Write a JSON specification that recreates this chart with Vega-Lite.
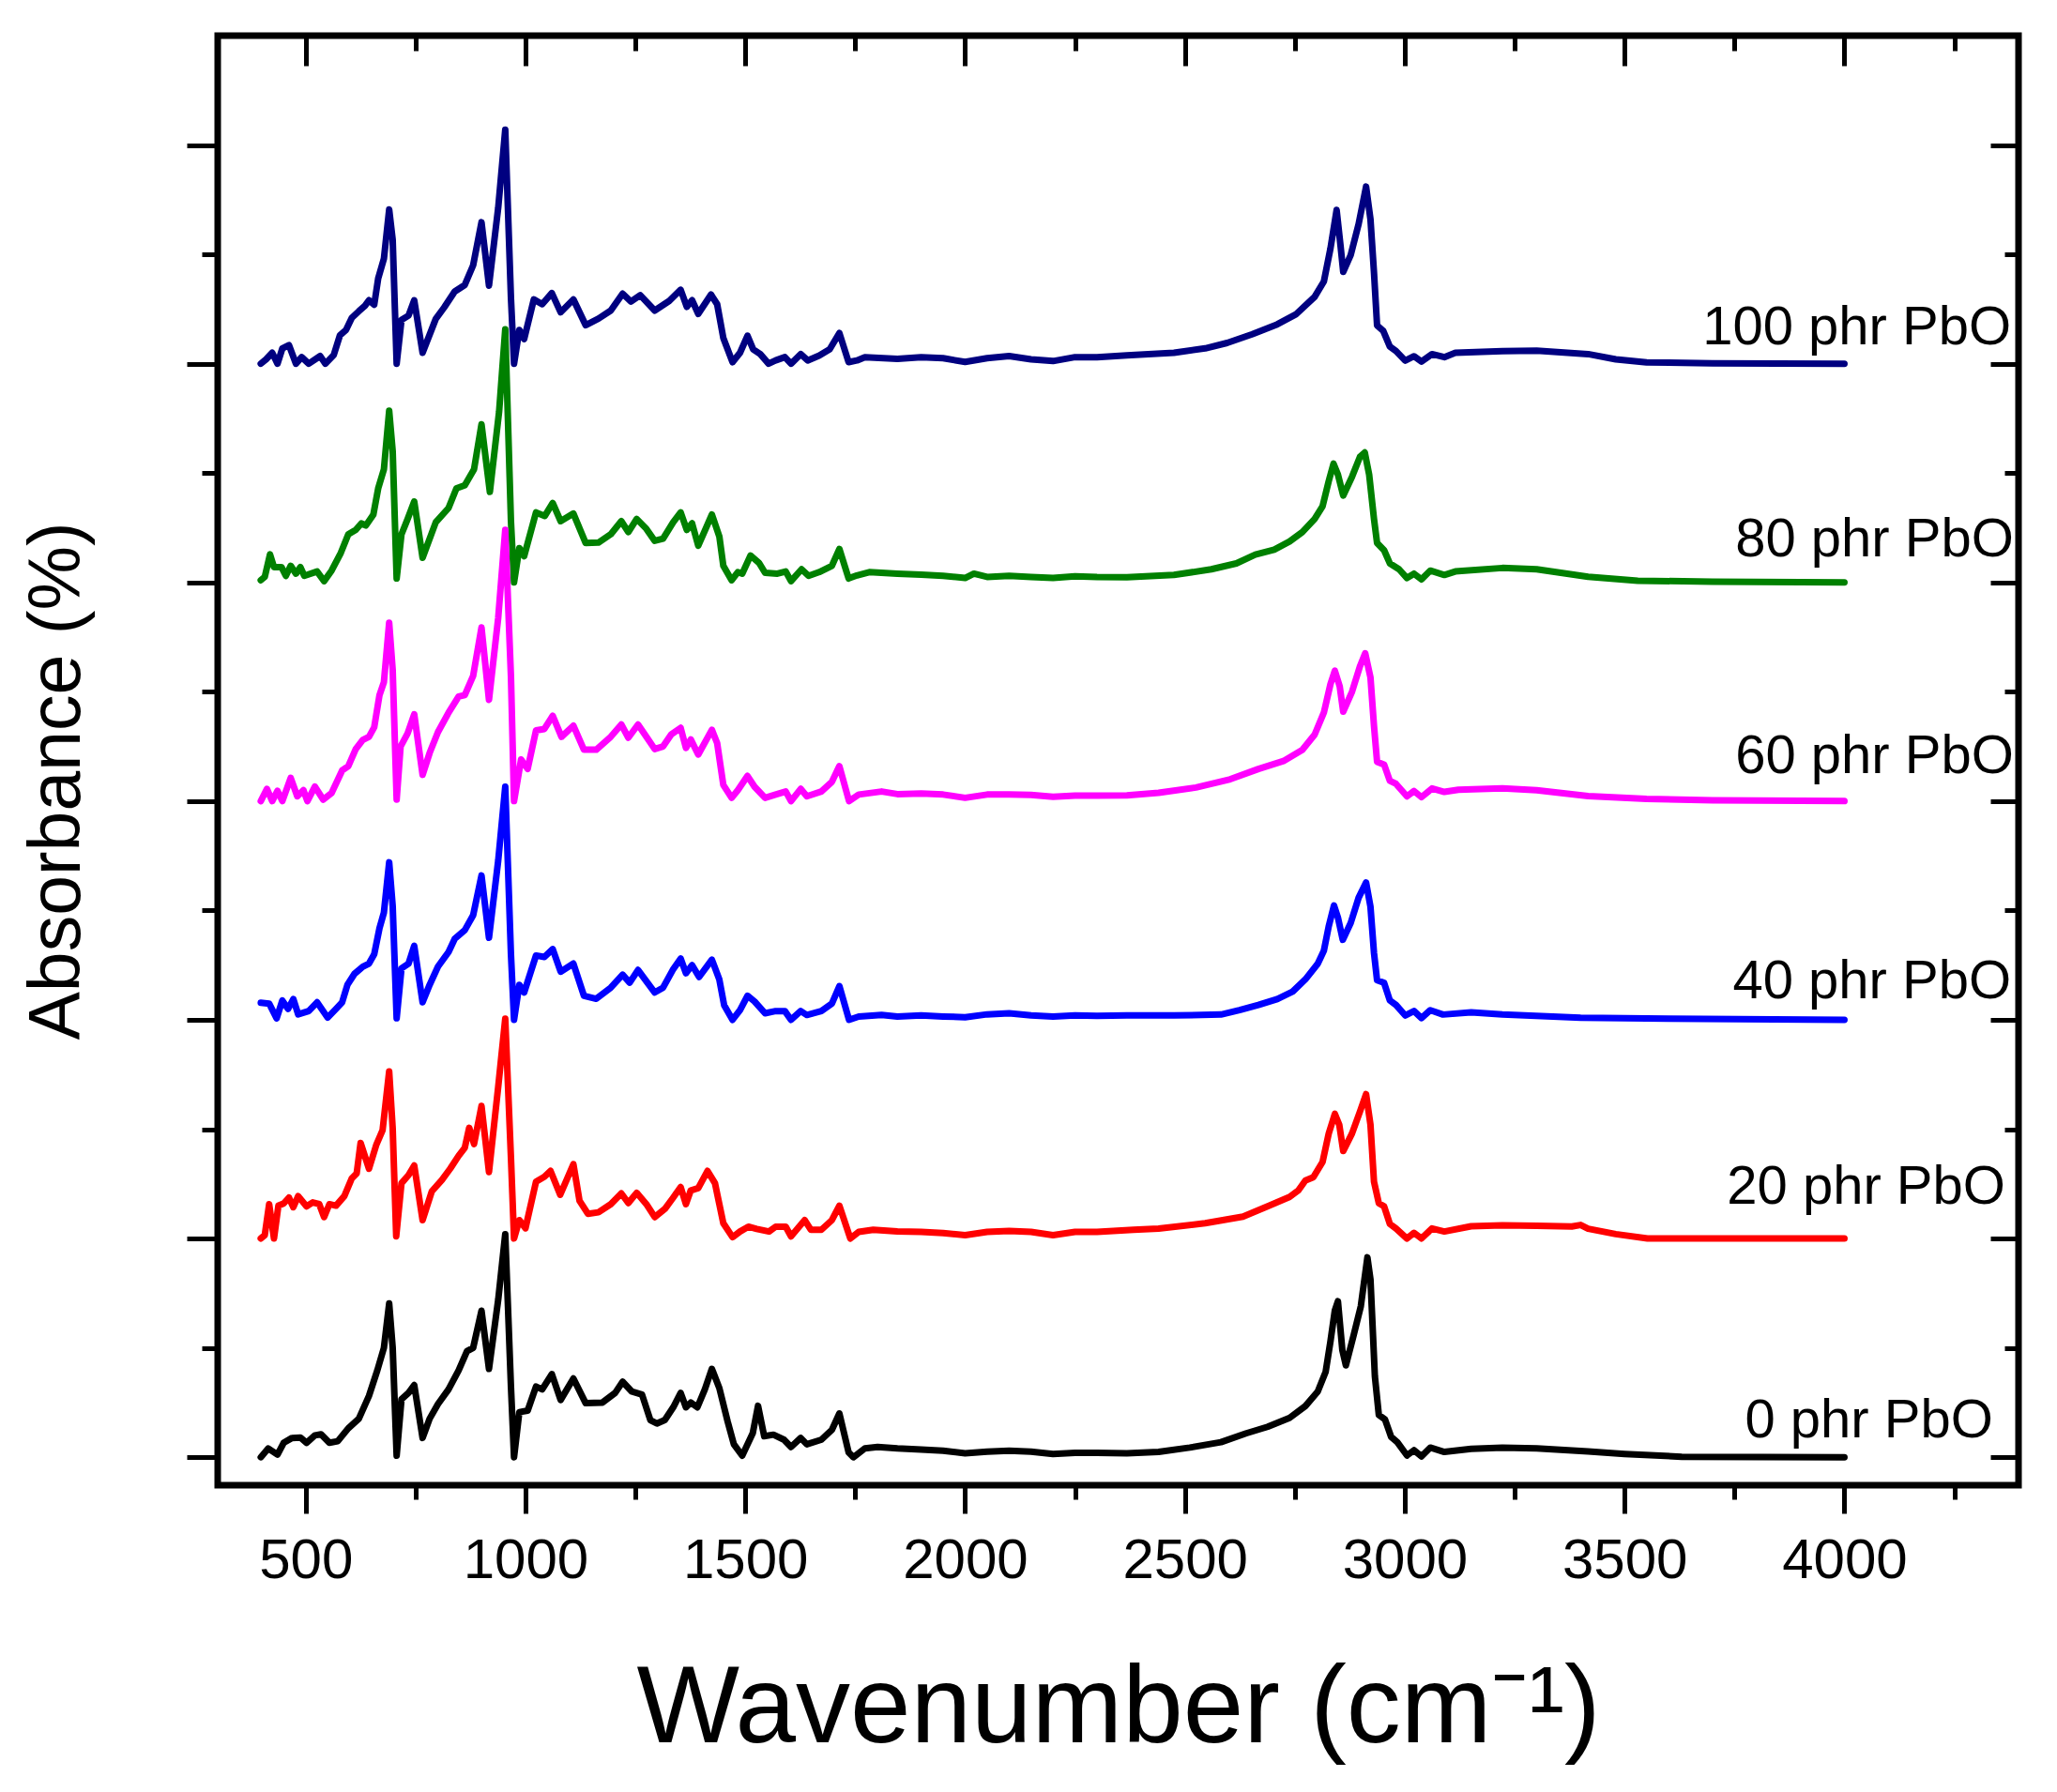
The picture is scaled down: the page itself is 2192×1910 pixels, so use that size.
{
  "$schema": "https://vega.github.io/schema/vega-lite/v6.json",
  "width": 1919,
  "height": 1545,
  "autosize": {"type": "none"},
  "padding": {"left": 232, "top": 38, "right": 41, "bottom": 327},
  "background": "white",
  "config": {
    "font": "Liberation Sans",
    "view": {"stroke": "black", "strokeWidth": 7},
    "axis": {"domain": false, "grid": false, "tickColor": "black", "tickWidth": 5, "labelColor": "black", "titleColor": "black", "titleFontWeight": "normal", "labelFont": "Liberation Sans", "titleFont": "Liberation Sans"}
  },
  "datasets": {
    "spectra": [
      {"s":"100","x":398,"y":5},{"s":"100","x":410,"y":5.02},{"s":"100","x":424,"y":5.05},{"s":"100","x":436,"y":5},{"s":"100","x":447,"y":5.07},{"s":"100","x":462,"y":5.085},{"s":"100","x":478,"y":5},{"s":"100","x":491,"y":5.03},{"s":"100","x":507,"y":5},{"s":"100","x":533,"y":5.035},{"s":"100","x":545,"y":5},{"s":"100","x":564,"y":5.04},{"s":"100","x":578,"y":5.13},{"s":"100","x":592,"y":5.155},{"s":"100","x":605,"y":5.21},{"s":"100","x":621,"y":5.24},{"s":"100","x":635,"y":5.265},{"s":"100","x":644,"y":5.29},{"s":"100","x":656,"y":5.27},{"s":"100","x":665,"y":5.39},{"s":"100","x":678,"y":5.48},{"s":"100","x":690,"y":5.705},{"s":"100","x":698,"y":5.566},{"s":"100","x":707,"y":5},{"s":"100","x":718,"y":5.2},{"s":"100","x":734,"y":5.22},{"s":"100","x":747,"y":5.29},{"s":"100","x":766,"y":5.05},{"s":"100","x":796,"y":5.205},{"s":"100","x":815,"y":5.257},{"s":"100","x":839,"y":5.33},{"s":"100","x":862,"y":5.36},{"s":"100","x":881,"y":5.45},{"s":"100","x":900,"y":5.647},{"s":"100","x":917,"y":5.357},{"s":"100","x":938,"y":5.713},{"s":"100","x":954,"y":6.07},{"s":"100","x":967,"y":5.3},{"s":"100","x":974,"y":5},{"s":"100","x":986,"y":5.154},{"s":"100","x":997,"y":5.113},{"s":"100","x":1019,"y":5.294},{"s":"100","x":1038,"y":5.272},{"s":"100","x":1060,"y":5.323},{"s":"100","x":1080,"y":5.235},{"s":"100","x":1109,"y":5.294},{"s":"100","x":1137,"y":5.176},{"s":"100","x":1166,"y":5.206},{"s":"100","x":1194,"y":5.243},{"s":"100","x":1221,"y":5.32},{"s":"100","x":1240,"y":5.284},{"s":"100","x":1261,"y":5.313},{"s":"100","x":1294,"y":5.243},{"s":"100","x":1327,"y":5.287},{"s":"100","x":1353,"y":5.338},{"s":"100","x":1367,"y":5.26},{"s":"100","x":1379,"y":5.29},{"s":"100","x":1393,"y":5.228},{"s":"100","x":1422,"y":5.316},{"s":"100","x":1436,"y":5.272},{"s":"100","x":1450,"y":5.118},{"s":"100","x":1471,"y":5.007},{"s":"100","x":1488,"y":5.05},{"s":"100","x":1505,"y":5.128},{"s":"100","x":1518,"y":5.066},{"s":"100","x":1534,"y":5.044},{"s":"100","x":1553,"y":5},{"s":"100","x":1569,"y":5.015},{"s":"100","x":1590,"y":5.03},{"s":"100","x":1604,"y":5},{"s":"100","x":1626,"y":5.044},{"s":"100","x":1642,"y":5.015},{"s":"100","x":1668,"y":5.037},{"s":"100","x":1692,"y":5.066},{"s":"100","x":1714,"y":5.14},{"s":"100","x":1735,"y":5.007},{"s":"100","x":1754,"y":5.015},{"s":"100","x":1772,"y":5.03},{"s":"100","x":1846,"y":5.022},{"s":"100","x":1900,"y":5.03},{"s":"100","x":1950,"y":5.025},{"s":"100","x":2000,"y":5.008},{"s":"100","x":2050,"y":5.025},{"s":"100","x":2100,"y":5.035},{"s":"100","x":2150,"y":5.02},{"s":"100","x":2200,"y":5.012},{"s":"100","x":2250,"y":5.03},{"s":"100","x":2300,"y":5.03},{"s":"100","x":2368,"y":5.038},{"s":"100","x":2475,"y":5.05},{"s":"100","x":2546,"y":5.07},{"s":"100","x":2596,"y":5.095},{"s":"100","x":2653,"y":5.135},{"s":"100","x":2710,"y":5.18},{"s":"100","x":2752,"y":5.225},{"s":"100","x":2795,"y":5.306},{"s":"100","x":2816,"y":5.376},{"s":"100","x":2831,"y":5.527},{"s":"100","x":2845,"y":5.703},{"s":"100","x":2854,"y":5.537},{"s":"100","x":2860,"y":5.42},{"s":"100","x":2877,"y":5.497},{"s":"100","x":2895,"y":5.638},{"s":"100","x":2912,"y":5.81},{"s":"100","x":2922,"y":5.66},{"s":"100","x":2930,"y":5.417},{"s":"100","x":2937,"y":5.175},{"s":"100","x":2951,"y":5.15},{"s":"100","x":2966,"y":5.078},{"s":"100","x":2980,"y":5.058},{"s":"100","x":3001,"y":5.014},{"s":"100","x":3021,"y":5.034},{"s":"100","x":3038,"y":5.01},{"s":"100","x":3062,"y":5.044},{"s":"100","x":3090,"y":5.03},{"s":"100","x":3115,"y":5.05},{"s":"100","x":3222,"y":5.058},{"s":"100","x":3300,"y":5.06},{"s":"100","x":3417,"y":5.044},{"s":"100","x":3480,"y":5.02},{"s":"100","x":3550,"y":5.006},{"s":"100","x":3700,"y":5.002},{"s":"100","x":4000,"y":5},

      {"s":"80","x":398,"y":4.01},{"s":"80","x":407,"y":4.025},{"s":"80","x":419,"y":4.128},{"s":"80","x":428,"y":4.07},{"s":"80","x":445,"y":4.07},{"s":"80","x":455,"y":4.03},{"s":"80","x":466,"y":4.076},{"s":"80","x":478,"y":4.04},{"s":"80","x":488,"y":4.07},{"s":"80","x":497,"y":4.03},{"s":"80","x":526,"y":4.05},{"s":"80","x":542,"y":4.006},{"s":"80","x":559,"y":4.054},{"s":"80","x":580,"y":4.135},{"s":"80","x":597,"y":4.22},{"s":"80","x":614,"y":4.24},{"s":"80","x":627,"y":4.27},{"s":"80","x":637,"y":4.26},{"s":"80","x":654,"y":4.31},{"s":"80","x":665,"y":4.43},{"s":"80","x":678,"y":4.517},{"s":"80","x":690,"y":4.785},{"s":"80","x":698,"y":4.6},{"s":"80","x":707,"y":4.018},{"s":"80","x":718,"y":4.22},{"s":"80","x":732,"y":4.29},{"s":"80","x":747,"y":4.37},{"s":"80","x":766,"y":4.113},{"s":"80","x":796,"y":4.275},{"s":"80","x":825,"y":4.34},{"s":"80","x":843,"y":4.43},{"s":"80","x":862,"y":4.444},{"s":"80","x":883,"y":4.517},{"s":"80","x":900,"y":4.723},{"s":"80","x":919,"y":4.414},{"s":"80","x":940,"y":4.78},{"s":"80","x":954,"y":5.157},{"s":"80","x":967,"y":4.28},{"s":"80","x":974,"y":4},{"s":"80","x":986,"y":4.157},{"s":"80","x":997,"y":4.12},{"s":"80","x":1024,"y":4.32},{"s":"80","x":1044,"y":4.304},{"s":"80","x":1062,"y":4.363},{"s":"80","x":1080,"y":4.28},{"s":"80","x":1109,"y":4.315},{"s":"80","x":1137,"y":4.18},{"s":"80","x":1166,"y":4.182},{"s":"80","x":1194,"y":4.22},{"s":"80","x":1218,"y":4.28},{"s":"80","x":1234,"y":4.23},{"s":"80","x":1253,"y":4.29},{"s":"80","x":1275,"y":4.245},{"s":"80","x":1294,"y":4.19},{"s":"80","x":1313,"y":4.2},{"s":"80","x":1336,"y":4.275},{"s":"80","x":1353,"y":4.32},{"s":"80","x":1367,"y":4.24},{"s":"80","x":1379,"y":4.27},{"s":"80","x":1393,"y":4.168},{"s":"80","x":1424,"y":4.31},{"s":"80","x":1441,"y":4.21},{"s":"80","x":1450,"y":4.076},{"s":"80","x":1469,"y":4.01},{"s":"80","x":1483,"y":4.047},{"s":"80","x":1493,"y":4.04},{"s":"80","x":1512,"y":4.123},{"s":"80","x":1531,"y":4.09},{"s":"80","x":1545,"y":4.044},{"s":"80","x":1573,"y":4.04},{"s":"80","x":1592,"y":4.05},{"s":"80","x":1604,"y":4.006},{"s":"80","x":1628,"y":4.06},{"s":"80","x":1644,"y":4.03},{"s":"80","x":1668,"y":4.047},{"s":"80","x":1697,"y":4.076},{"s":"80","x":1714,"y":4.153},{"s":"80","x":1735,"y":4.018},{"s":"80","x":1754,"y":4.032},{"s":"80","x":1782,"y":4.047},{"s":"80","x":1846,"y":4.04},{"s":"80","x":1900,"y":4.035},{"s":"80","x":1950,"y":4.03},{"s":"80","x":2000,"y":4.02},{"s":"80","x":2020,"y":4.04},{"s":"80","x":2050,"y":4.025},{"s":"80","x":2100,"y":4.03},{"s":"80","x":2150,"y":4.025},{"s":"80","x":2200,"y":4.02},{"s":"80","x":2250,"y":4.028},{"s":"80","x":2300,"y":4.025},{"s":"80","x":2368,"y":4.024},{"s":"80","x":2475,"y":4.034},{"s":"80","x":2560,"y":4.06},{"s":"80","x":2617,"y":4.087},{"s":"80","x":2660,"y":4.127},{"s":"80","x":2703,"y":4.15},{"s":"80","x":2738,"y":4.187},{"s":"80","x":2767,"y":4.23},{"s":"80","x":2795,"y":4.29},{"s":"80","x":2813,"y":4.348},{"s":"80","x":2827,"y":4.463},{"s":"80","x":2838,"y":4.543},{"s":"80","x":2848,"y":4.493},{"s":"80","x":2860,"y":4.397},{"s":"80","x":2880,"y":4.483},{"s":"80","x":2898,"y":4.574},{"s":"80","x":2909,"y":4.594},{"s":"80","x":2919,"y":4.493},{"s":"80","x":2930,"y":4.29},{"s":"80","x":2937,"y":4.18},{"s":"80","x":2953,"y":4.147},{"s":"80","x":2966,"y":4.087},{"s":"80","x":2987,"y":4.06},{"s":"80","x":3005,"y":4.02},{"s":"80","x":3021,"y":4.04},{"s":"80","x":3038,"y":4.014},{"s":"80","x":3058,"y":4.054},{"s":"80","x":3090,"y":4.034},{"s":"80","x":3115,"y":4.05},{"s":"80","x":3222,"y":4.066},{"s":"80","x":3300,"y":4.06},{"s":"80","x":3417,"y":4.026},{"s":"80","x":3530,"y":4.008},{"s":"80","x":3700,"y":4.003},{"s":"80","x":4000,"y":4},

      {"s":"60","x":398,"y":3},{"s":"60","x":412,"y":3.056},{"s":"60","x":424,"y":3},{"s":"60","x":436,"y":3.047},{"s":"60","x":447,"y":3},{"s":"60","x":466,"y":3.106},{"s":"60","x":481,"y":3.022},{"s":"60","x":495,"y":3.05},{"s":"60","x":504,"y":3},{"s":"60","x":521,"y":3.066},{"s":"60","x":540,"y":3.007},{"s":"60","x":559,"y":3.037},{"s":"60","x":583,"y":3.14},{"s":"60","x":597,"y":3.16},{"s":"60","x":614,"y":3.238},{"s":"60","x":630,"y":3.28},{"s":"60","x":644,"y":3.294},{"s":"60","x":656,"y":3.338},{"s":"60","x":668,"y":3.485},{"s":"60","x":678,"y":3.544},{"s":"60","x":690,"y":3.816},{"s":"60","x":698,"y":3.6},{"s":"60","x":707,"y":3.007},{"s":"60","x":716,"y":3.25},{"s":"60","x":732,"y":3.31},{"s":"60","x":747,"y":3.397},{"s":"60","x":766,"y":3.12},{"s":"60","x":782,"y":3.22},{"s":"60","x":801,"y":3.316},{"s":"60","x":825,"y":3.404},{"s":"60","x":848,"y":3.478},{"s":"60","x":862,"y":3.485},{"s":"60","x":881,"y":3.573},{"s":"60","x":900,"y":3.794},{"s":"60","x":917,"y":3.463},{"s":"60","x":938,"y":3.838},{"s":"60","x":954,"y":4.24},{"s":"60","x":967,"y":3.57},{"s":"60","x":974,"y":3},{"s":"60","x":990,"y":3.19},{"s":"60","x":1005,"y":3.147},{"s":"60","x":1024,"y":3.323},{"s":"60","x":1043,"y":3.33},{"s":"60","x":1062,"y":3.39},{"s":"60","x":1082,"y":3.294},{"s":"60","x":1109,"y":3.345},{"s":"60","x":1133,"y":3.235},{"s":"60","x":1161,"y":3.235},{"s":"60","x":1194,"y":3.294},{"s":"60","x":1218,"y":3.35},{"s":"60","x":1234,"y":3.29},{"s":"60","x":1256,"y":3.35},{"s":"60","x":1275,"y":3.294},{"s":"60","x":1294,"y":3.238},{"s":"60","x":1313,"y":3.25},{"s":"60","x":1332,"y":3.306},{"s":"60","x":1353,"y":3.335},{"s":"60","x":1365,"y":3.243},{"s":"60","x":1376,"y":3.282},{"s":"60","x":1393,"y":3.213},{"s":"60","x":1424,"y":3.326},{"s":"60","x":1436,"y":3.265},{"s":"60","x":1450,"y":3.074},{"s":"60","x":1469,"y":3.015},{"s":"60","x":1483,"y":3.05},{"s":"60","x":1505,"y":3.115},{"s":"60","x":1521,"y":3.066},{"s":"60","x":1545,"y":3.015},{"s":"60","x":1569,"y":3.03},{"s":"60","x":1592,"y":3.044},{"s":"60","x":1604,"y":3},{"s":"60","x":1626,"y":3.056},{"s":"60","x":1640,"y":3.022},{"s":"60","x":1673,"y":3.044},{"s":"60","x":1697,"y":3.088},{"s":"60","x":1714,"y":3.16},{"s":"60","x":1736,"y":3},{"s":"60","x":1758,"y":3.03},{"s":"60","x":1810,"y":3.044},{"s":"60","x":1846,"y":3.032},{"s":"60","x":1900,"y":3.035},{"s":"60","x":1950,"y":3.03},{"s":"60","x":2000,"y":3.015},{"s":"60","x":2050,"y":3.03},{"s":"60","x":2100,"y":3.03},{"s":"60","x":2150,"y":3.028},{"s":"60","x":2200,"y":3.02},{"s":"60","x":2250,"y":3.025},{"s":"60","x":2300,"y":3.025},{"s":"60","x":2368,"y":3.026},{"s":"60","x":2440,"y":3.038},{"s":"60","x":2525,"y":3.062},{"s":"60","x":2603,"y":3.1},{"s":"60","x":2667,"y":3.147},{"s":"60","x":2724,"y":3.183},{"s":"60","x":2767,"y":3.234},{"s":"60","x":2795,"y":3.304},{"s":"60","x":2816,"y":3.405},{"s":"60","x":2831,"y":3.535},{"s":"60","x":2841,"y":3.596},{"s":"60","x":2852,"y":3.525},{"s":"60","x":2860,"y":3.409},{"s":"60","x":2880,"y":3.5},{"s":"60","x":2898,"y":3.616},{"s":"60","x":2910,"y":3.676},{"s":"60","x":2922,"y":3.566},{"s":"60","x":2930,"y":3.344},{"s":"60","x":2937,"y":3.18},{"s":"60","x":2953,"y":3.167},{"s":"60","x":2966,"y":3.093},{"s":"60","x":2980,"y":3.079},{"s":"60","x":3005,"y":3.022},{"s":"60","x":3021,"y":3.046},{"s":"60","x":3038,"y":3.018},{"s":"60","x":3062,"y":3.058},{"s":"60","x":3090,"y":3.042},{"s":"60","x":3122,"y":3.052},{"s":"60","x":3222,"y":3.058},{"s":"60","x":3300,"y":3.05},{"s":"60","x":3417,"y":3.023},{"s":"60","x":3550,"y":3.01},{"s":"60","x":3700,"y":3.004},{"s":"60","x":4000,"y":3},

      {"s":"40","x":398,"y":2.078},{"s":"40","x":417,"y":2.074},{"s":"40","x":434,"y":2.007},{"s":"40","x":447,"y":2.088},{"s":"40","x":460,"y":2.05},{"s":"40","x":472,"y":2.095},{"s":"40","x":483,"y":2.025},{"s":"40","x":507,"y":2.04},{"s":"40","x":526,"y":2.08},{"s":"40","x":550,"y":2.01},{"s":"40","x":569,"y":2.05},{"s":"40","x":583,"y":2.08},{"s":"40","x":595,"y":2.16},{"s":"40","x":611,"y":2.21},{"s":"40","x":630,"y":2.243},{"s":"40","x":644,"y":2.257},{"s":"40","x":656,"y":2.3},{"s":"40","x":668,"y":2.419},{"s":"40","x":678,"y":2.49},{"s":"40","x":690,"y":2.72},{"s":"40","x":698,"y":2.52},{"s":"40","x":707,"y":2.007},{"s":"40","x":718,"y":2.235},{"s":"40","x":734,"y":2.257},{"s":"40","x":747,"y":2.338},{"s":"40","x":766,"y":2.08},{"s":"40","x":782,"y":2.16},{"s":"40","x":801,"y":2.243},{"s":"40","x":825,"y":2.31},{"s":"40","x":839,"y":2.37},{"s":"40","x":862,"y":2.41},{"s":"40","x":881,"y":2.478},{"s":"40","x":900,"y":2.66},{"s":"40","x":917,"y":2.375},{"s":"40","x":938,"y":2.728},{"s":"40","x":954,"y":3.066},{"s":"40","x":967,"y":2.3},{"s":"40","x":974,"y":2},{"s":"40","x":986,"y":2.16},{"s":"40","x":997,"y":2.125},{"s":"40","x":1024,"y":2.294},{"s":"40","x":1043,"y":2.287},{"s":"40","x":1062,"y":2.323},{"s":"40","x":1080,"y":2.22},{"s":"40","x":1109,"y":2.257},{"s":"40","x":1133,"y":2.11},{"s":"40","x":1161,"y":2.096},{"s":"40","x":1194,"y":2.147},{"s":"40","x":1221,"y":2.206},{"s":"40","x":1237,"y":2.17},{"s":"40","x":1256,"y":2.228},{"s":"40","x":1275,"y":2.176},{"s":"40","x":1294,"y":2.125},{"s":"40","x":1313,"y":2.147},{"s":"40","x":1335,"y":2.228},{"s":"40","x":1353,"y":2.28},{"s":"40","x":1365,"y":2.213},{"s":"40","x":1379,"y":2.25},{"s":"40","x":1395,"y":2.196},{"s":"40","x":1424,"y":2.275},{"s":"40","x":1441,"y":2.184},{"s":"40","x":1452,"y":2.066},{"s":"40","x":1471,"y":2},{"s":"40","x":1488,"y":2.044},{"s":"40","x":1505,"y":2.11},{"s":"40","x":1521,"y":2.084},{"s":"40","x":1545,"y":2.03},{"s":"40","x":1569,"y":2.04},{"s":"40","x":1590,"y":2.04},{"s":"40","x":1604,"y":2},{"s":"40","x":1626,"y":2.04},{"s":"40","x":1640,"y":2.022},{"s":"40","x":1673,"y":2.04},{"s":"40","x":1697,"y":2.074},{"s":"40","x":1714,"y":2.154},{"s":"40","x":1736,"y":2},{"s":"40","x":1758,"y":2.015},{"s":"40","x":1810,"y":2.022},{"s":"40","x":1846,"y":2.015},{"s":"40","x":1900,"y":2.02},{"s":"40","x":1950,"y":2.015},{"s":"40","x":2000,"y":2.012},{"s":"40","x":2050,"y":2.025},{"s":"40","x":2100,"y":2.03},{"s":"40","x":2150,"y":2.02},{"s":"40","x":2200,"y":2.015},{"s":"40","x":2250,"y":2.02},{"s":"40","x":2300,"y":2.018},{"s":"40","x":2368,"y":2.02},{"s":"40","x":2475,"y":2.02},{"s":"40","x":2582,"y":2.024},{"s":"40","x":2624,"y":2.044},{"s":"40","x":2667,"y":2.068},{"s":"40","x":2710,"y":2.095},{"s":"40","x":2745,"y":2.129},{"s":"40","x":2774,"y":2.185},{"s":"40","x":2802,"y":2.256},{"s":"40","x":2816,"y":2.316},{"s":"40","x":2827,"y":2.427},{"s":"40","x":2839,"y":2.523},{"s":"40","x":2848,"y":2.467},{"s":"40","x":2859,"y":2.366},{"s":"40","x":2877,"y":2.443},{"s":"40","x":2895,"y":2.558},{"s":"40","x":2912,"y":2.628},{"s":"40","x":2922,"y":2.517},{"s":"40","x":2930,"y":2.306},{"s":"40","x":2937,"y":2.181},{"s":"40","x":2953,"y":2.169},{"s":"40","x":2966,"y":2.089},{"s":"40","x":2980,"y":2.068},{"s":"40","x":3001,"y":2.02},{"s":"40","x":3021,"y":2.04},{"s":"40","x":3038,"y":2.008},{"s":"40","x":3058,"y":2.044},{"s":"40","x":3087,"y":2.024},{"s":"40","x":3151,"y":2.034},{"s":"40","x":3222,"y":2.024},{"s":"40","x":3400,"y":2.01},{"s":"40","x":3600,"y":2.005},{"s":"40","x":4000,"y":2},

      {"s":"20","x":398,"y":1},{"s":"20","x":407,"y":1.015},{"s":"20","x":417,"y":1.157},{"s":"20","x":428,"y":1},{"s":"20","x":438,"y":1.15},{"s":"20","x":450,"y":1.16},{"s":"20","x":462,"y":1.187},{"s":"20","x":472,"y":1.143},{"s":"20","x":483,"y":1.194},{"s":"20","x":502,"y":1.147},{"s":"20","x":516,"y":1.165},{"s":"20","x":531,"y":1.157},{"s":"20","x":542,"y":1.098},{"s":"20","x":554,"y":1.157},{"s":"20","x":569,"y":1.15},{"s":"20","x":588,"y":1.194},{"s":"20","x":605,"y":1.275},{"s":"20","x":616,"y":1.297},{"s":"20","x":625,"y":1.437},{"s":"20","x":644,"y":1.319},{"s":"20","x":661,"y":1.43},{"s":"20","x":675,"y":1.495},{"s":"20","x":690,"y":1.764},{"s":"20","x":698,"y":1.503},{"s":"20","x":706,"y":1.01},{"s":"20","x":718,"y":1.253},{"s":"20","x":734,"y":1.29},{"s":"20","x":747,"y":1.334},{"s":"20","x":766,"y":1.084},{"s":"20","x":787,"y":1.216},{"s":"20","x":810,"y":1.268},{"s":"20","x":829,"y":1.32},{"s":"20","x":848,"y":1.378},{"s":"20","x":862,"y":1.415},{"s":"20","x":872,"y":1.506},{"s":"20","x":883,"y":1.432},{"s":"20","x":900,"y":1.606},{"s":"20","x":917,"y":1.304},{"s":"20","x":938,"y":1.694},{"s":"20","x":954,"y":2.005},{"s":"20","x":967,"y":1.37},{"s":"20","x":974,"y":1},{"s":"20","x":986,"y":1.084},{"s":"20","x":1000,"y":1.047},{"s":"20","x":1024,"y":1.26},{"s":"20","x":1043,"y":1.282},{"s":"20","x":1057,"y":1.309},{"s":"20","x":1079,"y":1.2},{"s":"20","x":1109,"y":1.34},{"s":"20","x":1123,"y":1.172},{"s":"20","x":1142,"y":1.113},{"s":"20","x":1166,"y":1.12},{"s":"20","x":1194,"y":1.157},{"s":"20","x":1218,"y":1.206},{"s":"20","x":1234,"y":1.162},{"s":"20","x":1253,"y":1.209},{"s":"20","x":1275,"y":1.157},{"s":"20","x":1294,"y":1.098},{"s":"20","x":1317,"y":1.135},{"s":"20","x":1336,"y":1.187},{"s":"20","x":1353,"y":1.235},{"s":"20","x":1365,"y":1.157},{"s":"20","x":1376,"y":1.22},{"s":"20","x":1393,"y":1.23},{"s":"20","x":1414,"y":1.309},{"s":"20","x":1431,"y":1.253},{"s":"20","x":1450,"y":1.07},{"s":"20","x":1471,"y":1.006},{"s":"20","x":1488,"y":1.032},{"s":"20","x":1507,"y":1.054},{"s":"20","x":1526,"y":1.044},{"s":"20","x":1554,"y":1.032},{"s":"20","x":1569,"y":1.054},{"s":"20","x":1592,"y":1.054},{"s":"20","x":1604,"y":1.01},{"s":"20","x":1635,"y":1.084},{"s":"20","x":1649,"y":1.04},{"s":"20","x":1673,"y":1.04},{"s":"20","x":1697,"y":1.084},{"s":"20","x":1714,"y":1.15},{"s":"20","x":1739,"y":1},{"s":"20","x":1758,"y":1.03},{"s":"20","x":1791,"y":1.04},{"s":"20","x":1846,"y":1.032},{"s":"20","x":1900,"y":1.03},{"s":"20","x":1950,"y":1.025},{"s":"20","x":2000,"y":1.015},{"s":"20","x":2050,"y":1.03},{"s":"20","x":2100,"y":1.035},{"s":"20","x":2150,"y":1.03},{"s":"20","x":2200,"y":1.015},{"s":"20","x":2250,"y":1.03},{"s":"20","x":2300,"y":1.03},{"s":"20","x":2383,"y":1.04},{"s":"20","x":2440,"y":1.045},{"s":"20","x":2546,"y":1.07},{"s":"20","x":2632,"y":1.1},{"s":"20","x":2688,"y":1.147},{"s":"20","x":2738,"y":1.19},{"s":"20","x":2758,"y":1.22},{"s":"20","x":2774,"y":1.265},{"s":"20","x":2792,"y":1.28},{"s":"20","x":2813,"y":1.35},{"s":"20","x":2827,"y":1.48},{"s":"20","x":2841,"y":1.57},{"s":"20","x":2851,"y":1.52},{"s":"20","x":2860,"y":1.4},{"s":"20","x":2880,"y":1.48},{"s":"20","x":2898,"y":1.58},{"s":"20","x":2912,"y":1.66},{"s":"20","x":2922,"y":1.52},{"s":"20","x":2930,"y":1.26},{"s":"20","x":2941,"y":1.161},{"s":"20","x":2953,"y":1.147},{"s":"20","x":2966,"y":1.067},{"s":"20","x":2980,"y":1.046},{"s":"20","x":3005,"y":1},{"s":"20","x":3021,"y":1.026},{"s":"20","x":3038,"y":1},{"s":"20","x":3062,"y":1.046},{"s":"20","x":3090,"y":1.032},{"s":"20","x":3151,"y":1.056},{"s":"20","x":3222,"y":1.06},{"s":"20","x":3300,"y":1.058},{"s":"20","x":3380,"y":1.055},{"s":"20","x":3400,"y":1.062},{"s":"20","x":3417,"y":1.045},{"s":"20","x":3480,"y":1.02},{"s":"20","x":3552,"y":1},{"s":"20","x":4000,"y":1},

      {"s":"0","x":398,"y":0},{"s":"0","x":415,"y":0.04},{"s":"0","x":436,"y":0.012},{"s":"0","x":450,"y":0.066},{"s":"0","x":469,"y":0.088},{"s":"0","x":488,"y":0.09},{"s":"0","x":502,"y":0.066},{"s":"0","x":521,"y":0.1},{"s":"0","x":535,"y":0.105},{"s":"0","x":554,"y":0.066},{"s":"0","x":573,"y":0.073},{"s":"0","x":597,"y":0.132},{"s":"0","x":621,"y":0.176},{"s":"0","x":644,"y":0.28},{"s":"0","x":663,"y":0.397},{"s":"0","x":678,"y":0.5},{"s":"0","x":690,"y":0.703},{"s":"0","x":698,"y":0.5},{"s":"0","x":707,"y":0.007},{"s":"0","x":718,"y":0.265},{"s":"0","x":734,"y":0.294},{"s":"0","x":747,"y":0.33},{"s":"0","x":766,"y":0.088},{"s":"0","x":782,"y":0.176},{"s":"0","x":801,"y":0.243},{"s":"0","x":825,"y":0.31},{"s":"0","x":848,"y":0.397},{"s":"0","x":867,"y":0.485},{"s":"0","x":881,"y":0.5},{"s":"0","x":900,"y":0.67},{"s":"0","x":917,"y":0.404},{"s":"0","x":938,"y":0.72},{"s":"0","x":954,"y":1.02},{"s":"0","x":967,"y":0.323},{"s":"0","x":974,"y":0},{"s":"0","x":986,"y":0.206},{"s":"0","x":1005,"y":0.213},{"s":"0","x":1024,"y":0.323},{"s":"0","x":1038,"y":0.31},{"s":"0","x":1060,"y":0.38},{"s":"0","x":1080,"y":0.262},{"s":"0","x":1109,"y":0.36},{"s":"0","x":1137,"y":0.247},{"s":"0","x":1175,"y":0.25},{"s":"0","x":1204,"y":0.294},{"s":"0","x":1221,"y":0.345},{"s":"0","x":1242,"y":0.3},{"s":"0","x":1265,"y":0.287},{"s":"0","x":1284,"y":0.17},{"s":"0","x":1299,"y":0.154},{"s":"0","x":1317,"y":0.17},{"s":"0","x":1336,"y":0.228},{"s":"0","x":1353,"y":0.294},{"s":"0","x":1365,"y":0.228},{"s":"0","x":1376,"y":0.25},{"s":"0","x":1391,"y":0.228},{"s":"0","x":1408,"y":0.31},{"s":"0","x":1424,"y":0.404},{"s":"0","x":1441,"y":0.316},{"s":"0","x":1460,"y":0.162},{"s":"0","x":1474,"y":0.059},{"s":"0","x":1493,"y":0.007},{"s":"0","x":1517,"y":0.11},{"s":"0","x":1529,"y":0.235},{"s":"0","x":1543,"y":0.096},{"s":"0","x":1564,"y":0.103},{"s":"0","x":1588,"y":0.08},{"s":"0","x":1604,"y":0.047},{"s":"0","x":1626,"y":0.088},{"s":"0","x":1640,"y":0.059},{"s":"0","x":1673,"y":0.08},{"s":"0","x":1697,"y":0.125},{"s":"0","x":1714,"y":0.2},{"s":"0","x":1735,"y":0.022},{"s":"0","x":1746,"y":0},{"s":"0","x":1772,"y":0.04},{"s":"0","x":1801,"y":0.047},{"s":"0","x":1846,"y":0.04},{"s":"0","x":1900,"y":0.035},{"s":"0","x":1950,"y":0.03},{"s":"0","x":2000,"y":0.018},{"s":"0","x":2050,"y":0.025},{"s":"0","x":2100,"y":0.03},{"s":"0","x":2150,"y":0.025},{"s":"0","x":2200,"y":0.015},{"s":"0","x":2250,"y":0.02},{"s":"0","x":2300,"y":0.02},{"s":"0","x":2368,"y":0.018},{"s":"0","x":2440,"y":0.024},{"s":"0","x":2511,"y":0.044},{"s":"0","x":2582,"y":0.069},{"s":"0","x":2639,"y":0.109},{"s":"0","x":2688,"y":0.139},{"s":"0","x":2738,"y":0.18},{"s":"0","x":2774,"y":0.234},{"s":"0","x":2802,"y":0.3},{"s":"0","x":2820,"y":0.39},{"s":"0","x":2831,"y":0.53},{"s":"0","x":2841,"y":0.672},{"s":"0","x":2848,"y":0.713},{"s":"0","x":2858,"y":0.49},{"s":"0","x":2866,"y":0.42},{"s":"0","x":2884,"y":0.56},{"s":"0","x":2900,"y":0.69},{"s":"0","x":2915,"y":0.914},{"s":"0","x":2922,"y":0.813},{"s":"0","x":2932,"y":0.37},{"s":"0","x":2941,"y":0.193},{"s":"0","x":2955,"y":0.173},{"s":"0","x":2969,"y":0.093},{"s":"0","x":2983,"y":0.069},{"s":"0","x":3005,"y":0.008},{"s":"0","x":3021,"y":0.032},{"s":"0","x":3038,"y":0.004},{"s":"0","x":3058,"y":0.044},{"s":"0","x":3090,"y":0.024},{"s":"0","x":3151,"y":0.038},{"s":"0","x":3222,"y":0.044},{"s":"0","x":3300,"y":0.04},{"s":"0","x":3417,"y":0.026},{"s":"0","x":3500,"y":0.015},{"s":"0","x":3630,"y":0.002},{"s":"0","x":4000,"y":0}
    ],
    "labels": [
      {"label": "100 phr PbO", "x": 4379, "y": 5.09},
      {"label": "80 phr PbO", "x": 4385, "y": 4.12},
      {"label": "60 phr PbO", "x": 4385, "y": 3.13},
      {"label": "40 phr PbO", "x": 4379, "y": 2.10},
      {"label": "20 phr PbO", "x": 4366, "y": 1.16},
      {"label": "0 phr PbO", "x": 4338, "y": 0.09}
    ]
  },
  "layer": [
    {
      "data": {"name": "spectra"},
      "mark": {"type": "line", "strokeWidth": 7, "strokeJoin": "round", "strokeCap": "round"},
      "encoding": {
        "x": {
          "field": "x", "type": "quantitative",
          "scale": {"domain": [300, 4396], "nice": false, "zero": false},
          "axis": {
            "orient": "bottom",
            "values": [500, 750, 1000, 1250, 1500, 1750, 2000, 2250, 2500, 2750, 3000, 3250, 3500, 3750, 4000, 4250],
            "labelExpr": "datum.value % 500 === 0 ? datum.label : ''",
            "format": "d",
            "tickSize": {"condition": {"test": "datum.value % 500 === 0", "value": 30}, "value": 15},
            "labelFontSize": 60,
            "labelPadding": 21,
            "labelOverlap": false,
            "labelFlush": false,
            "title": "Wavenumber (cm⁻¹)",
            "titleFontSize": 116,
            "titlePadding": 71
          }
        },
        "y": {
          "field": "y", "type": "quantitative",
          "scale": {"domain": [-0.128, 6.5], "nice": false, "zero": false},
          "axis": {
            "orient": "left",
            "values": [0, 0.5, 1, 1.5, 2, 2.5, 3, 3.5, 4, 4.5, 5, 5.5, 6],
            "labels": false,
            "tickSize": {"condition": {"test": "datum.value % 1 === 0", "value": 33}, "value": 17},
            "title": "Absorbance (%)",
            "titleFontSize": 77,
            "titlePadding": 96,
            "titleY": 794
          }
        },
        "color": {
          "field": "s", "type": "nominal",
          "scale": {"domain": ["0", "20", "40", "60", "80", "100"], "range": ["#000000", "#FF0000", "#0000FF", "#FF00FF", "#008000", "#000080"]},
          "legend": null
        }
      }
    },
    {
      "data": {"name": "labels"},
      "mark": {"type": "line", "opacity": 0},
      "encoding": {
        "x": {
          "field": "x", "type": "quantitative",
          "scale": {"domain": [300, 4396], "nice": false, "zero": false},
          "axis": {
            "orient": "top",
            "values": [500, 750, 1000, 1250, 1500, 1750, 2000, 2250, 2500, 2750, 3000, 3250, 3500, 3750, 4000, 4250],
            "labels": false,
            "tickSize": {"condition": {"test": "datum.value % 500 === 0", "value": -32}, "value": -16},
            "title": null
          }
        },
        "y": {
          "field": "y", "type": "quantitative",
          "scale": {"domain": [-0.128, 6.5], "nice": false, "zero": false},
          "axis": {
            "orient": "right",
            "values": [0, 0.5, 1, 1.5, 2, 2.5, 3, 3.5, 4, 4.5, 5, 5.5, 6],
            "labels": false,
            "tickSize": {"condition": {"test": "datum.value % 1 === 0", "value": -30}, "value": -15},
            "title": null
          }
        }
      }
    },
    {
      "data": {"name": "labels"},
      "mark": {"type": "text", "align": "right", "baseline": "alphabetic", "fontSize": 58, "font": "Liberation Sans", "color": "black"},
      "encoding": {
        "x": {"field": "x", "type": "quantitative", "scale": {"domain": [300, 4396], "nice": false, "zero": false}, "axis": null},
        "y": {"field": "y", "type": "quantitative", "scale": {"domain": [-0.128, 6.5], "nice": false, "zero": false}, "axis": null},
        "text": {"field": "label"}
      }
    }
  ],
  "resolve": {"axis": {"x": "independent", "y": "independent"}}
}
